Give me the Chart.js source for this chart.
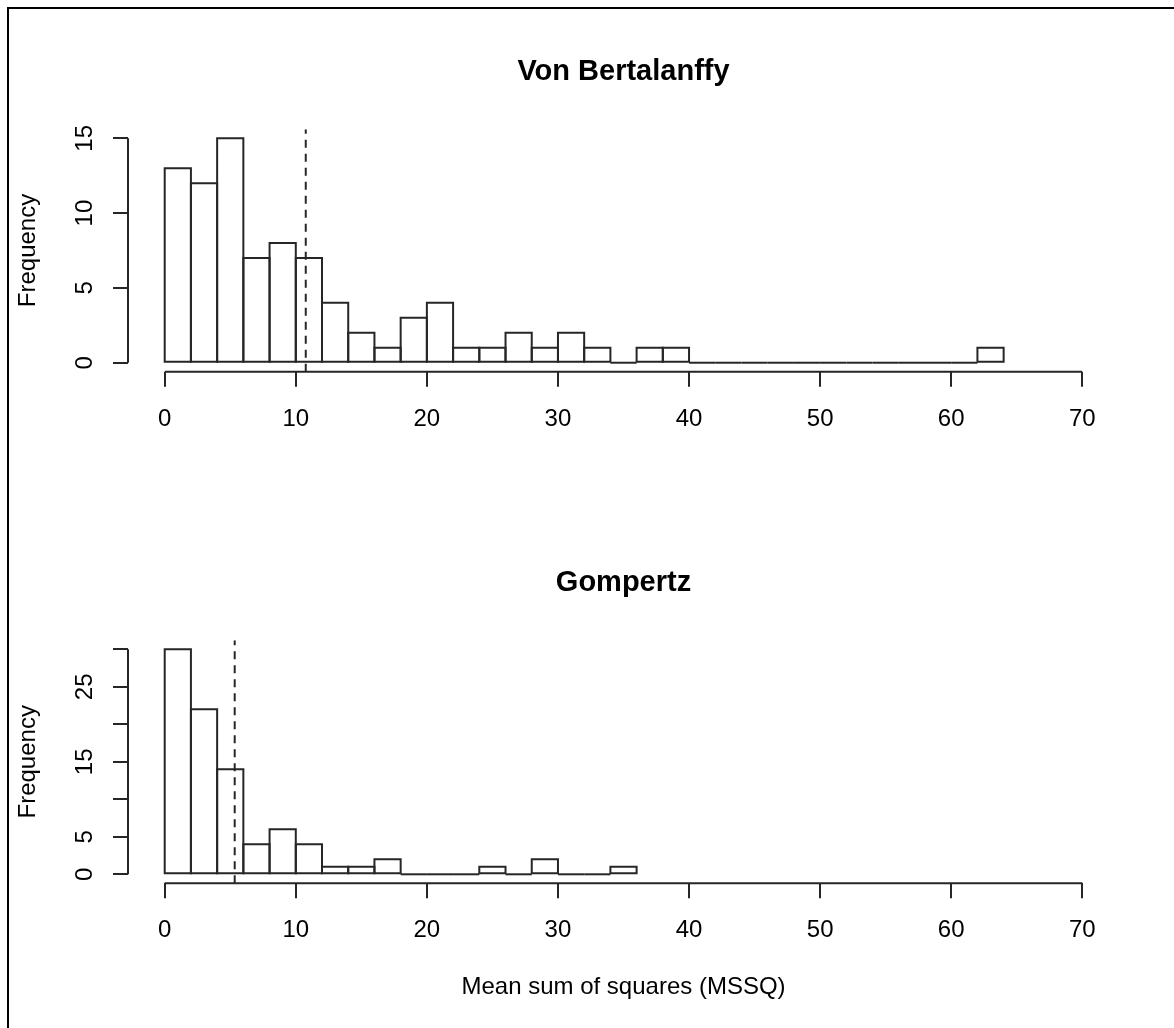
<!DOCTYPE html>
<html>
<head>
<meta charset="utf-8">
<script src="https://cdn.jsdelivr.net/npm/chart.js@4.4.1/dist/chart.umd.min.js"></script>
<style>
  html, body { margin: 0; padding: 0; background: #fff; }
  #page { position: relative; width: 1174px; height: 1028px; overflow: hidden; background: #fff; }
  #frame { position: absolute; left: 7px; top: 7px; width: 1200px; height: 1100px;
           border-top: 2px solid #000; border-left: 2px solid #000; }
  canvas { position: absolute; left: 0; }
  #c1 { top: 0; }
  #c2 { top: 511px; }
</style>
</head>
<body>
<div id="page">
  <div id="frame"></div>
  <canvas id="c1" width="1174" height="511"></canvas>
  <canvas id="c2" width="1174" height="517"></canvas>
</div>
<script>
// ---------------- data ----------------
const vbTitle = 'Von Bertalanffy';
const gTitle = 'Gompertz';
const xAxisTitle = 'Mean sum of squares (MSSQ)';
const yAxisTitle = 'Frequency';

// lower edges of the histogram bins (bin width 2)
const vbBinStarts = [0, 2, 4, 6, 8, 10, 12, 14, 16, 18, 20, 22, 24, 26, 28, 30,
                     32, 34, 36, 38, 40, 42, 44, 46, 48, 50, 52, 54, 56, 58, 60, 62];
const vbCounts    = [13, 12, 15, 7, 8, 7, 4, 2, 1, 3, 4, 1, 1, 2, 1, 2,
                     1, 0, 1, 1, 0, 0, 0, 0, 0, 0, 0, 0, 0, 0, 0, 1];
const gBinStarts  = [0, 2, 4, 6, 8, 10, 12, 14, 16, 18, 20, 22, 24, 26, 28, 30, 32, 34];
const gCounts     = [30, 22, 14, 4, 6, 4, 1, 1, 2, 0, 0, 0, 1, 0, 2, 0, 0, 1];
const binWidth = 2;

const vbMean = 10.76;   // dashed reference line
const gMean = 5.34;

const xTickValues = [0, 10, 20, 30, 40, 50, 60, 70];
const xTickLabels = ['0', '10', '20', '30', '40', '50', '60', '70'];
const vbYTickValues = [0, 5, 10, 15];
const vbYTickLabels = ['0', '5', '10', '15'];
const gYTickValues = [0, 5, 10, 15, 20, 25, 30];
const gYTickLabels = ['0', '5', '', '15', '', '25', ''];

const xRange = [-2.8, 72.8];
const vbYRange = [-0.6, 15.6];
const gYRange = [-1.2, 31.2];

// ---------------- style ----------------
const INK = '#262626';
Chart.defaults.font.family = '"Liberation Sans", Arial, Helvetica, sans-serif';
Chart.defaults.font.size = 24;
Chart.defaults.color = '#000';

const histOutline = {
  id: 'histOutline',
  afterDatasetDraw(chart, args) {
    const meta = args.meta;
    if (meta.type !== 'bar') return;
    const ctx = chart.ctx;
    ctx.save();
    ctx.strokeStyle = INK;
    ctx.lineWidth = 2;
    meta.data.forEach(el => {
      const p = el.getProps(['x', 'y', 'base', 'width'], true);
      const l = p.x - p.width / 2, r = p.x + p.width / 2;
      const t = Math.min(p.y, p.base), b = Math.max(p.y, p.base);
      ctx.beginPath();
      if (b - t < 0.5) {
        ctx.moveTo(l, b); ctx.lineTo(r, b);
      } else {
        ctx.rect(l, t, r - l, b - t);
      }
      ctx.stroke();
    });
    ctx.restore();
  }
};

const axisLines = {
  id: 'axisLines',
  afterDraw(chart, args, opts) {
    const ctx = chart.ctx;
    const xs = chart.scales.x, ys = chart.scales.y;
    const ca = chart.chartArea;
    ctx.save();
    ctx.strokeStyle = INK;
    ctx.lineWidth = 2;
    ctx.beginPath();
    ctx.moveTo(xs.getPixelForValue(opts.xFrom), ca.bottom);
    ctx.lineTo(xs.getPixelForValue(opts.xTo), ca.bottom);
    ctx.moveTo(ca.left, ys.getPixelForValue(opts.yFrom));
    ctx.lineTo(ca.left, ys.getPixelForValue(opts.yTo));
    ctx.stroke();
    ctx.restore();
  }
};

function makeChart(canvasId, cfg) {
  const bars = cfg.binStarts.map((s, i) => ({ x: s + binWidth / 2, y: cfg.counts[i] }));
  const meanLine = [{ x: cfg.mean, y: cfg.yRange[0] }, { x: cfg.mean, y: cfg.yRange[1] }];
  return new Chart(document.getElementById(canvasId), {
    type: 'bar',
    data: {
      datasets: [
        {
          type: 'line',
          data: meanLine,
          borderColor: INK,
          borderWidth: 2,
          borderDash: [8, 6],
          pointRadius: 0,
          fill: false,
          tension: 0
        },
        {
          type: 'bar',
          data: bars,
          backgroundColor: '#ffffff',
          borderWidth: 0,
          barPercentage: 1,
          categoryPercentage: 1
        }
      ]
    },
    options: {
      responsive: false,
      animation: false,
      events: [],
      layout: { padding: { left: 0, right: 55, top: 0, bottom: 0 } },
      plugins: {
        legend: { display: false },
        tooltip: { enabled: false },
        title: {
          display: true,
          text: cfg.title,
          fullSize: false,
          color: '#000',
          font: { size: 29, weight: 'bold' },
          padding: { top: 54.6, bottom: 39.9 }
        },
        axisLines: { xFrom: xTickValues[0], xTo: xTickValues[xTickValues.length - 1],
                     yFrom: cfg.yTicks[0], yTo: cfg.yTicks[cfg.yTicks.length - 1] }
      },
      scales: {
        x: {
          type: 'linear',
          min: xRange[0],
          max: xRange[1],
          offset: false,
          afterBuildTicks: s => { s.ticks = xTickValues.map(v => ({ value: v })); },
          afterFit: s => { s.height = cfg.xHeight; },
          grid: { offset: false, drawOnChartArea: false, drawTicks: true, tickLength: 15,
                  color: INK, lineWidth: 2 },
          border: { display: false },
          ticks: {
            autoSkip: false, maxRotation: 0, minRotation: 0, padding: 18,
            color: '#000', font: { size: 24 },
            callback: (v) => xTickLabels[xTickValues.indexOf(v)]
          },
          title: cfg.xTitle ? {
            display: true, text: cfg.xTitle, color: '#000', font: { size: 24 },
            padding: { top: 0, bottom: 26.6 }
          } : { display: false }
        },
        y: {
          type: 'linear',
          min: cfg.yRange[0],
          max: cfg.yRange[1],
          afterBuildTicks: s => { s.ticks = cfg.yTicks.map(v => ({ value: v })); },
          afterFit: s => { s.width = 128; },
          grid: { drawOnChartArea: false, drawTicks: true, tickLength: 15,
                  color: INK, lineWidth: 2 },
          border: { display: false },
          ticks: {
            autoSkip: false, minRotation: 90, maxRotation: 90, crossAlign: 'center',
            padding: 14.5, color: '#000', font: { size: 24 },
            callback: (v) => cfg.yLabels[cfg.yTicks.indexOf(v)]
          },
          title: {
            display: true, text: yAxisTitle, color: '#000', font: { size: 24 },
            padding: { top: 14.2, bottom: 0 }
          }
        }
      }
    },
    plugins: [histOutline, axisLines]
  });
}

makeChart('c1', {
  title: vbTitle, binStarts: vbBinStarts, counts: vbCounts, mean: vbMean,
  yRange: vbYRange, yTicks: vbYTickValues, yLabels: vbYTickLabels,
  xHeight: 139.3, xTitle: null
});
makeChart('c2', {
  title: gTitle, binStarts: gBinStarts, counts: gCounts, mean: gMean,
  yRange: gYRange, yTicks: gYTickValues, yLabels: gYTickLabels,
  xHeight: 144.7, xTitle: xAxisTitle
});
</script>
</body>
</html>
